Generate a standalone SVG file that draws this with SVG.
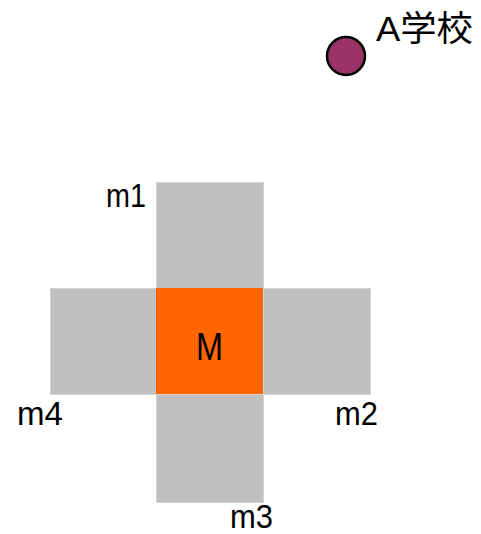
<svg xmlns="http://www.w3.org/2000/svg" width="481" height="534" viewBox="0 0 481 534">
<style>
.sq{fill:#c0c0c0;stroke:#d4d4d4;stroke-width:1}
.m{fill:#ff6600}
.lbl{font-family:"Liberation Sans",Arial,sans-serif;font-size:33px;fill:#000}
.cjk{font-family:"Liberation Sans","Noto Sans CJK JP",sans-serif;font-size:35px;fill:#000}
</style>
<rect width="481" height="534" fill="#fff"/>
<g id="school">
<circle cx="346" cy="56" r="19" fill="#993366" stroke="#000" stroke-width="2.5"/>
<text class="cjk" x="376" y="41" textLength="97" lengthAdjust="spacingAndGlyphs">A学校</text>
</g>
<g id="m1">
<rect class="sq" x="156.5" y="182.5" width="107" height="106"/>
<text class="lbl" x="106" y="207" textLength="40" lengthAdjust="spacingAndGlyphs">m1</text>
</g>
<g id="m4">
<rect class="sq" x="50.5" y="288.5" width="106" height="106"/>
<text class="lbl" x="17" y="425" textLength="46" lengthAdjust="spacingAndGlyphs">m4</text>
</g>
<g id="m2">
<rect class="sq" x="263.5" y="288.5" width="107" height="106"/>
<text class="lbl" x="335" y="425" textLength="43" lengthAdjust="spacingAndGlyphs">m2</text>
</g>
<g id="m3">
<rect class="sq" x="156.5" y="394.5" width="107" height="108"/>
<text class="lbl" x="230" y="528" textLength="43" lengthAdjust="spacingAndGlyphs">m3</text>
</g>
<g id="M">
<rect class="m" x="156" y="288" width="107" height="106"/>
<text class="lbl" x="196" y="360" style="font-size:38px" textLength="27" lengthAdjust="spacingAndGlyphs">M</text>
</g>
<g id="connectors"></g>
</svg>
